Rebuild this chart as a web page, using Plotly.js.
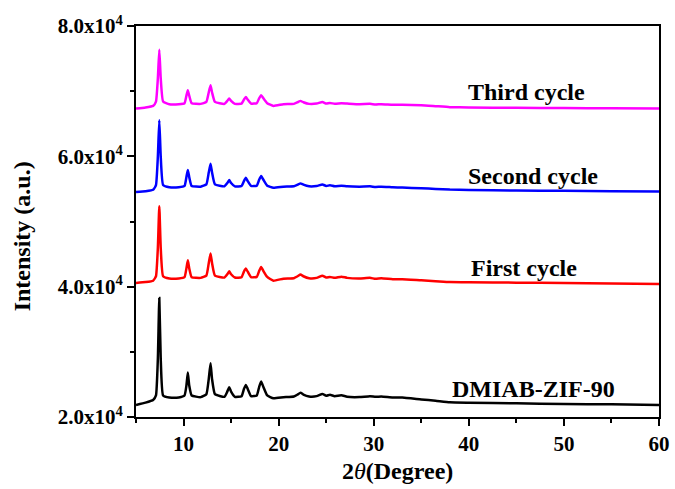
<!DOCTYPE html>
<html>
<head>
<meta charset="utf-8">
<script src="https://cdn.plot.ly/plotly-3.0.1.min.js"></script>
<style>
html,body{margin:0;padding:0;background:#fff;}
#chart{width:675px;height:489px;}
</style>
</head>
<body>
<div id="chart"></div>
<script>
// 2-theta positions (degrees)
const twoTheta = [5, 6, 6.8, 7.1, 7.3, 7.45, 7.6, 7.85, 8.5, 9.5, 10.1, 10.3, 10.45, 10.6, 10.85, 11.8, 12.4, 12.65, 12.84, 13.0, 13.3, 14.3, 14.6, 14.8, 15.0, 15.4, 16.1, 16.35, 16.55, 16.75, 17.1, 17.7, 17.95, 18.16, 18.4, 18.8, 19.45, 20.5, 21.6, 22.0, 22.3, 22.6, 23.2, 24.0, 24.6, 25.0, 25.4, 25.9, 26.6, 27.2, 28.5, 29.6, 30.2, 30.8, 32, 33, 35, 36.5, 38, 40, 45, 50, 55, 60];

const dmiabZif90 = [21850, 22200, 22600, 23300, 29000, 38260, 29000, 23300, 23000, 23000, 23300, 24800, 26820, 24800, 23300, 23050, 23500, 25800, 28260, 25800, 23500, 23100, 23900, 24570, 23900, 23100, 23200, 24300, 24920, 24300, 23200, 23300, 24600, 25430, 24600, 23300, 22870, 23030, 23150, 23450, 23740, 23450, 23150, 23200, 23540, 23250, 23400, 23200, 23340, 23100, 23050, 23200, 23100, 23150, 23000, 23000, 22700, 22500, 22260, 22200, 22100, 22000, 21950, 21850];

const firstCycle = [40570, 40700, 40920, 41600, 46000, 52350, 46000, 41600, 41250, 41250, 41450, 42800, 44050, 42800, 41450, 41350, 41700, 43600, 45080, 43600, 41700, 41400, 41900, 42350, 41900, 41400, 41450, 42300, 42770, 42300, 41450, 41500, 42400, 43030, 42400, 41500, 40920, 41230, 41300, 41600, 41850, 41600, 41300, 41350, 41690, 41400, 41500, 41350, 41540, 41350, 41250, 41350, 41200, 41300, 41150, 41150, 40970, 40850, 40700, 40660, 40620, 40570, 40500, 40420];

const secondCycle = [54510, 54650, 54880, 55600, 60000, 65540, 60000, 55600, 55250, 55250, 55450, 56800, 57890, 56800, 55450, 55350, 55700, 57500, 58870, 57500, 55700, 55400, 55900, 56360, 55900, 55400, 55450, 56200, 56720, 56200, 55450, 55500, 56400, 56970, 56400, 55500, 55180, 55340, 55400, 55650, 55850, 55650, 55400, 55450, 55690, 55450, 55550, 55400, 55490, 55400, 55350, 55400, 55300, 55350, 55250, 55200, 55100, 55000, 54900, 54850, 54750, 54700, 54650, 54620];

const thirdCycle = [67340, 67500, 67740, 68400, 72000, 76350, 72000, 68400, 68000, 68000, 68150, 69300, 70150, 69300, 68150, 68050, 68350, 69800, 70920, 69800, 68350, 68050, 68500, 68880, 68500, 68050, 68100, 68700, 69120, 68700, 68100, 68150, 68900, 69380, 68900, 68150, 67740, 68000, 68050, 68300, 68510, 68300, 68050, 68100, 68350, 68100, 68200, 68050, 68150, 68100, 68000, 68050, 67950, 68000, 67900, 67900, 67850, 67700, 67550, 67500, 67450, 67400, 67370, 67340];

const seriesNames = ["DMIAB-ZIF-90", "First cycle", "Second cycle", "Third cycle"];
const seriesColors = ["#000000", "#ff0000", "#0000ff", "#ff00ff"];
const seriesValues = [dmiabZif90, firstCycle, secondCycle, thirdCycle];

// label anchor positions (data coords)
const labelX = [46.8, 45.8, 46.8, 46.1];
const labelY = [24310, 42920, 56920, 69850];

const yTickVals = [20000, 40000, 60000, 80000];
const yTickText = ["2.0x10<sup>4</sup>", "4.0x10<sup>4</sup>", "6.0x10<sup>4</sup>", "8.0x10<sup>4</sup>"];
const xTickVals = [10, 20, 30, 40, 50, 60];

const FONT = "'Liberation Serif', 'Times New Roman', serif";

const traces = seriesValues.map((v, i) => ({
  x: twoTheta, y: v, type: "scatter", mode: "lines",
  name: seriesNames[i],
  line: {color: seriesColors[i], width: 2.5, shape: "spline", smoothing: 0.4}
}));

const annotations = seriesNames.map((n, i) => ({
  x: labelX[i], y: labelY[i], xref: "x", yref: "y",
  text: "<b>" + n + "</b>", showarrow: false,
  xanchor: "center", yanchor: "middle",
  font: {family: FONT, size: 24, color: "#000"}
}));

annotations.push({
  xref: "paper", yref: "paper", x: 0.5, y: 0, yshift: -54,
  xanchor: "center", yanchor: "middle", showarrow: false,
  text: "<b>2</b><i>θ</i><b>(Degree)</b>",
  font: {family: FONT, size: 24, color: "#000"}
});
annotations.push({
  xref: "paper", yref: "paper", x: 0, xshift: -114, y: 0.462,
  xanchor: "center", yanchor: "middle", showarrow: false, textangle: -90,
  text: "<b>Intensity (a.u.)</b>",
  font: {family: FONT, size: 24, color: "#000"}
});

const layout = {
  width: 675, height: 489,
  margin: {l: 136, r: 16, t: 26, b: 72},
  paper_bgcolor: "#fff", plot_bgcolor: "#fff",
  showlegend: false,
  xaxis: {
    range: [5, 60], showgrid: false, zeroline: false,
    showline: true, linecolor: "#000", linewidth: 2, mirror: true,
    tickmode: "array", tickvals: xTickVals,
    ticks: "outside", ticklen: 7, tickwidth: 2, tickcolor: "#000",
    minor: {tickmode: "linear", tick0: 5, dtick: 10, ticks: "outside", ticklen: 4, tickwidth: 2, tickcolor: "#000"},
    tickfont: {family: FONT, size: 21, color: "#000", weight: "bold"}
  },
  yaxis: {
    range: [20000, 80000], showgrid: false, zeroline: false,
    showline: true, linecolor: "#000", linewidth: 2, mirror: true,
    tickmode: "array", tickvals: yTickVals, ticktext: yTickText,
    ticks: "outside", ticklen: 7, tickwidth: 2, tickcolor: "#000",
    minor: {tickmode: "linear", tick0: 30000, dtick: 20000, ticks: "outside", ticklen: 4, tickwidth: 2, tickcolor: "#000"},
    tickfont: {family: FONT, size: 21, color: "#000", weight: "bold"}
  },
  annotations: annotations
};

Plotly.newPlot("chart", traces, layout, {displayModeBar: false, staticPlot: true});
</script>
</body>
</html>
